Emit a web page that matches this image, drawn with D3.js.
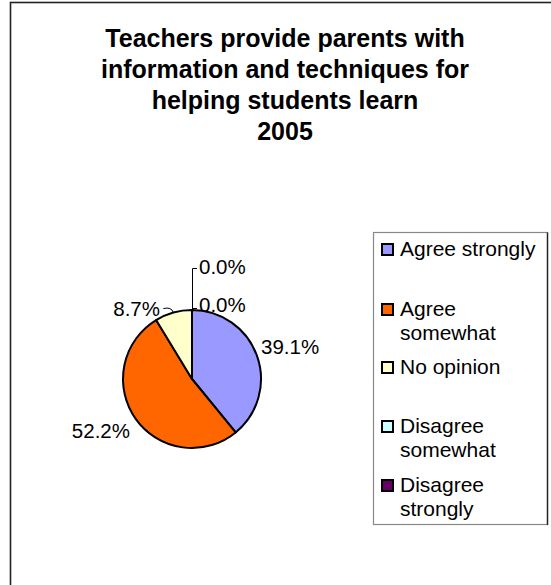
<!DOCTYPE html>
<html>
<head>
<meta charset="utf-8">
<script src="https://cdn.jsdelivr.net/npm/d3@7"></script>
<style>
  html, body { margin: 0; padding: 0; background: #fff; }
  svg { display: block; font-family: "Liberation Sans", Arial, sans-serif; }
</style>
</head>
<body>
<svg id="chart" width="551" height="585"></svg>
<script>
// Survey responses, 2005
const categories = ["Agree strongly", "Agree somewhat", "No opinion", "Disagree somewhat", "Disagree strongly"];
const legendLines = [["Agree strongly"], ["Agree", "somewhat"], ["No opinion"], ["Disagree", "somewhat"], ["Disagree", "strongly"]];
const values = [39.1, 52.2, 8.7, 0.0, 0.0];
const colors = ["#9999FF", "#FF6600", "#FFFFCC", "#CCFFFF", "#660066"];
const titleLines = ["Teachers provide parents with", "information and techniques for", "helping students learn", "2005"];

const svg = d3.select("#chart");

// Chart frame
svg.append("rect")
  .attr("x", 10.5).attr("y", 2.5)
  .attr("width", 560).attr("height", 600)
  .attr("fill", "#fff").attr("stroke", "#222").attr("stroke-width", 1.6);

// Title
svg.append("g").selectAll("text").data(titleLines).join("text")
  .attr("x", 285).attr("y", (d, i) => 47 + i * 31)
  .attr("text-anchor", "middle")
  .attr("font-size", 25).attr("font-weight", "bold")
  .text(d => d);

// Pie
const cx = 192, cy = 379, r = 69;
const pie = d3.pie().sort(null).value(d => d)(values);
const arc = d3.arc().innerRadius(0).outerRadius(r);
const g = svg.append("g").attr("transform", `translate(${cx},${cy})`);
g.selectAll("path").data(pie).join("path")
  .attr("d", arc)
  .attr("fill", (d, i) => colors[i])
  .attr("stroke", "#000").attr("stroke-width", 2).attr("stroke-linejoin", "round");

// Value labels
const fmt = v => v.toFixed(1) + "%";
const labelPos = [
  { x: 261, y: 354, anchor: "start" },
  { x: 130, y: 438, anchor: "end" },
  { x: 160, y: 316, anchor: "end" },
  { x: 199, y: 274, anchor: "start" },
  { x: 199, y: 312, anchor: "start" }
];
const lbl = svg.append("g").attr("font-size", 20.5);
values.forEach((v, i) => {
  const p = labelPos[i];
  lbl.append("text").attr("x", p.x).attr("y", p.y)
    .attr("text-anchor", p.anchor).text(fmt(v));
});

// Leader lines for the zero-size slices at the top of the pie
const pieTop = cy - r;
const leaders = svg.append("g").attr("fill", "none").attr("stroke", "#000").attr("stroke-width", 1);
leaders.append("path").attr("d", `M${cx + 0.5},${pieTop} V268.5 H197`);
leaders.append("path").attr("d", `M${cx + 0.5},${pieTop} V308.5 H197`);
// short leader for the small slice
const mid = pie[2];
const a = (mid.startAngle + mid.endAngle) / 2;
const ex = cx + r * Math.sin(a), ey = cy - r * Math.cos(a);
leaders.append("path")
  .attr("d", `M${ex},${ey} Q${ex - 2},${ey - 6} ${ex - 10},${ey - 4}`);

// Legend
const lg = svg.append("g");
lg.append("rect")
  .attr("x", 373.5).attr("y", 232.5).attr("width", 174).attr("height", 292)
  .attr("fill", "#fff").attr("stroke", "#888").attr("stroke-width", 1.2);
lg.append("line")
  .attr("x1", 547.5).attr("y1", 232.5).attr("x2", 547.5).attr("y2", 525)
  .attr("stroke", "#222").attr("stroke-width", 1.4);
const itemY = [243, 303, 361, 420, 479];
categories.forEach((c, i) => {
  const y = itemY[i];
  lg.append("rect")
    .attr("x", 382).attr("y", y + 1).attr("width", 11).attr("height", 11)
    .attr("fill", colors[i]).attr("stroke", "#000").attr("stroke-width", 2);
  legendLines[i].forEach((t, j) => {
    lg.append("text")
      .attr("x", 400).attr("y", y + 13 + j * 24)
      .attr("font-size", 21).text(t);
  });
});
</script>
</body>
</html>
